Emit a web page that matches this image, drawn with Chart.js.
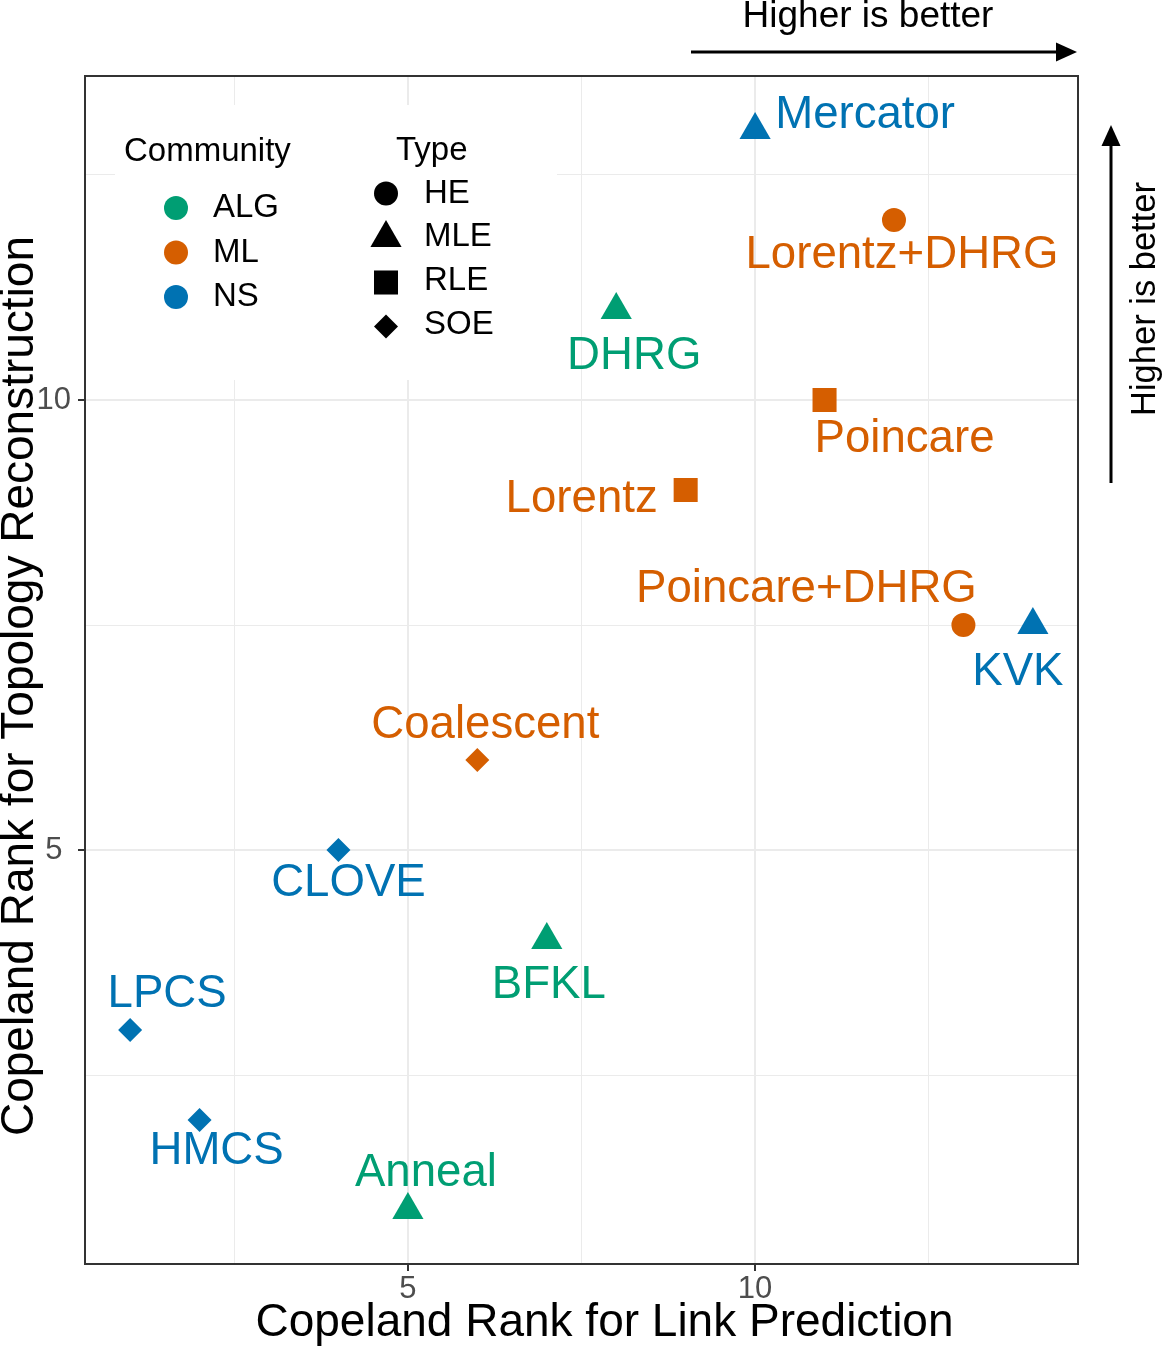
<!DOCTYPE html>
<html>
<head>
<meta charset="utf-8">
<script src="https://cdn.jsdelivr.net/npm/chart.js@4.4.1/dist/chart.umd.min.js"></script>
<style>
  html, body { margin: 0; padding: 0; background: #fff; }
  canvas { display: block; }
</style>
</head>
<body>
<canvas id="chart" width="1165" height="1346"></canvas>
<script>
// ---- data ----
const methods   = ['Mercator', 'Lorentz+DHRG', 'DHRG', 'Poincare', 'Lorentz', 'Poincare+DHRG', 'KVK',
                   'Coalescent', 'CLOVE', 'BFKL', 'LPCS', 'HMCS', 'Anneal'];
const linkRank  = [10, 12, 8, 11, 9, 13, 14, 6, 4, 7, 1, 2, 5];
const topoRank  = [13, 12, 11, 10, 9, 7.5, 7.5, 6, 5, 4, 3, 2, 1];
const community = ['NS', 'ML', 'ALG', 'ML', 'ML', 'ML', 'NS', 'ML', 'NS', 'ALG', 'NS', 'NS', 'ALG'];
const embedType = ['MLE', 'HE', 'MLE', 'RLE', 'RLE', 'HE', 'MLE', 'SOE', 'SOE', 'MLE', 'SOE', 'SOE', 'MLE'];

const communities = ['ALG', 'ML', 'NS'];
const types = ['HE', 'MLE', 'RLE', 'SOE'];
const xTicks = [2.5, 5, 7.5, 10, 12.5];
const yTicks = [2.5, 5, 7.5, 10, 12.5];
const majorTicks = [5, 10];

// ---- styling ----
const FONT = "'Liberation Sans', Arial, Helvetica, sans-serif";
const communityColor = { ALG: '#009E73', ML: '#D55E00', NS: '#0072B2' };
const typeStyle = {
  HE:  { pointStyle: 'circle',   radius: 12 },
  MLE: { pointStyle: 'triangle', radius: 18 },
  RLE: { pointStyle: 'rect',     radius: 17 },
  SOE: { pointStyle: 'rectRot',  radius: 12 }
};
// label nudge in px from the point: [dx to text centre, dy to baseline]
const labelNudge = {
  'Mercator': [110, -2], 'Lorentz+DHRG': [8, 48], 'DHRG': [18, 59], 'Poincare': [80, 52],
  'Lorentz': [-104, 22], 'Poincare+DHRG': [-157, -23], 'KVK': [-15, 60], 'Coalescent': [8, -22],
  'CLOVE': [10, 46], 'BFKL': [2, 58], 'LPCS': [37, -23], 'HMCS': [17, 44], 'Anneal': [18, -24]
};

const isMajor = v => majorTicks.includes(v);

const gridOpts = {
  color: '#EBEBEB',
  lineWidth: c => (c.tick && isMajor(c.tick.value)) ? 2 : 1,
  drawTicks: true,
  tickLength: 7,
  tickWidth: 2,
  tickColor: c => (c.tick && isMajor(c.tick.value)) ? '#333333' : 'rgba(0,0,0,0)'
};

const pointLabels = {
  id: 'pointLabels',
  afterDatasetsDraw(chart) {
    const ctx = chart.ctx;
    const meta = chart.getDatasetMeta(0);
    ctx.save();
    ctx.font = '45.6px ' + FONT;
    ctx.textAlign = 'center';
    ctx.textBaseline = 'alphabetic';
    meta.data.forEach((pt, i) => {
      const n = labelNudge[methods[i]] || [0, -20];
      ctx.fillStyle = communityColor[community[i]];
      ctx.fillText(methods[i], pt.x + n[0], pt.y + n[1]);
    });
    ctx.restore();
  }
};

const panelAndLegend = {
  id: 'panelAndLegend',
  beforeDatasetsDraw(chart) {
    const ctx = chart.ctx;
    const ca = chart.chartArea;
    const L = ca.left, T = ca.top;
    ctx.save();
    // legend background
    ctx.fillStyle = '#FFFFFF';
    ctx.fillRect(L + 30, T + 29, 442, 275);
    ctx.fillStyle = '#000';
    ctx.font = '33px ' + FONT;
    ctx.textAlign = 'left';
    ctx.textBaseline = 'alphabetic';
    ctx.fillText('Community', L + 39, T + 85);
    communities.forEach((c, i) => {
      const y = T + 132 + i * 44.5;
      ctx.fillStyle = communityColor[c];
      Chart.helpers.drawPoint(ctx, { pointStyle: 'circle', radius: 12, borderWidth: 0, rotation: 0 }, L + 91, y);
      ctx.fillStyle = '#000';
      ctx.fillText(c, L + 128, y + 9);
    });
    ctx.fillText('Type', L + 311, T + 84);
    const shapeY = [117.5, 162, 206.5, 250.5];
    const textY = [127, 170, 214, 258];
    types.forEach((t, i) => {
      ctx.fillStyle = '#000';
      Chart.helpers.drawPoint(ctx, { pointStyle: typeStyle[t].pointStyle, radius: typeStyle[t].radius, borderWidth: 0, rotation: 0 }, L + 301, T + shapeY[i]);
      ctx.fillText(t, L + 339, T + textY[i]);
    });
    ctx.restore();
  },
  afterDatasetsDraw(chart) {
    const ctx = chart.ctx;
    const ca = chart.chartArea;
    ctx.save();
    ctx.strokeStyle = '#333333';
    ctx.lineWidth = 2;
    ctx.strokeRect(ca.left, ca.top, ca.right - ca.left, ca.bottom - ca.top);
    ctx.restore();
  }
};

const annotations = {
  id: 'annotations',
  afterDraw(chart) {
    const ctx = chart.ctx;
    const ca = chart.chartArea;
    ctx.save();
    ctx.fillStyle = '#000';
    ctx.strokeStyle = '#000';
    ctx.textAlign = 'center';
    ctx.textBaseline = 'alphabetic';

    // axis titles
    ctx.font = '46px ' + FONT;
    ctx.fillText('Copeland Rank for Link Prediction', (ca.left + ca.right) / 2 + 23, 1336);
    ctx.save();
    ctx.translate(33, (ca.top + ca.bottom) / 2 + 16);
    ctx.rotate(-Math.PI / 2);
    ctx.fillText('Copeland Rank for Topology Reconstruction', 0, 0);
    ctx.restore();

    // top "Higher is better" arrow
    ctx.font = '37px ' + FONT;
    ctx.fillText('Higher is better', 868, 27);
    ctx.lineWidth = 3;
    ctx.beginPath();
    ctx.moveTo(691, 52);
    ctx.lineTo(1060, 52);
    ctx.stroke();
    ctx.beginPath();
    ctx.moveTo(1077, 52);
    ctx.lineTo(1056, 42.5);
    ctx.lineTo(1056, 61.5);
    ctx.closePath();
    ctx.fill();

    // right "Higher is better" arrow
    ctx.beginPath();
    ctx.moveTo(1111, 483);
    ctx.lineTo(1111, 142);
    ctx.stroke();
    ctx.beginPath();
    ctx.moveTo(1111, 125);
    ctx.lineTo(1101.5, 146);
    ctx.lineTo(1120.5, 146);
    ctx.closePath();
    ctx.fill();
    ctx.save();
    ctx.translate(1155, 299);
    ctx.rotate(-Math.PI / 2);
    ctx.font = '34.5px ' + FONT;
    ctx.fillText('Higher is better', 0, 0);
    ctx.restore();

    ctx.restore();
  }
};

const ctx = document.getElementById('chart');
new Chart(ctx, {
  type: 'scatter',
  data: {
    datasets: [{
      label: 'methods',
      data: linkRank.map((x, i) => ({ x: x, y: topoRank[i] })),
      pointStyle: embedType.map(t => typeStyle[t].pointStyle),
      pointRadius: embedType.map(t => typeStyle[t].radius),
      pointHoverRadius: embedType.map(t => typeStyle[t].radius),
      backgroundColor: community.map(c => communityColor[c]),
      borderWidth: 0
    }]
  },
  options: {
    responsive: false,
    animation: false,
    devicePixelRatio: 1,
    layout: { padding: { left: 0, right: 87, top: 76, bottom: 0 } },
    plugins: { legend: { display: false }, tooltip: { enabled: false } },
    scales: {
      x: {
        type: 'linear',
        min: 0.35,
        max: 14.65,
        afterBuildTicks: s => { s.ticks = xTicks.map(v => ({ value: v })); },
        afterFit: s => { s.height = 82; },
        grid: gridOpts,
        border: { display: false },
        ticks: {
          autoSkip: false,
          maxRotation: 0,
          padding: 0,
          color: '#4D4D4D',
          font: { family: FONT, size: 31 },
          callback: v => isMajor(v) ? String(v) : ''
        }
      },
      y: {
        type: 'linear',
        min: 0.4,
        max: 13.6,
        afterBuildTicks: s => { s.ticks = yTicks.map(v => ({ value: v })); },
        afterFit: s => { s.width = 85; },
        grid: gridOpts,
        border: { display: false },
        ticks: {
          autoSkip: false,
          padding: 7,
          crossAlign: 'center',
          color: '#4D4D4D',
          font: { family: FONT, size: 31 },
          callback: v => isMajor(v) ? String(v) : ''
        }
      }
    }
  },
  plugins: [panelAndLegend, pointLabels, annotations]
});
</script>
</body>
</html>
